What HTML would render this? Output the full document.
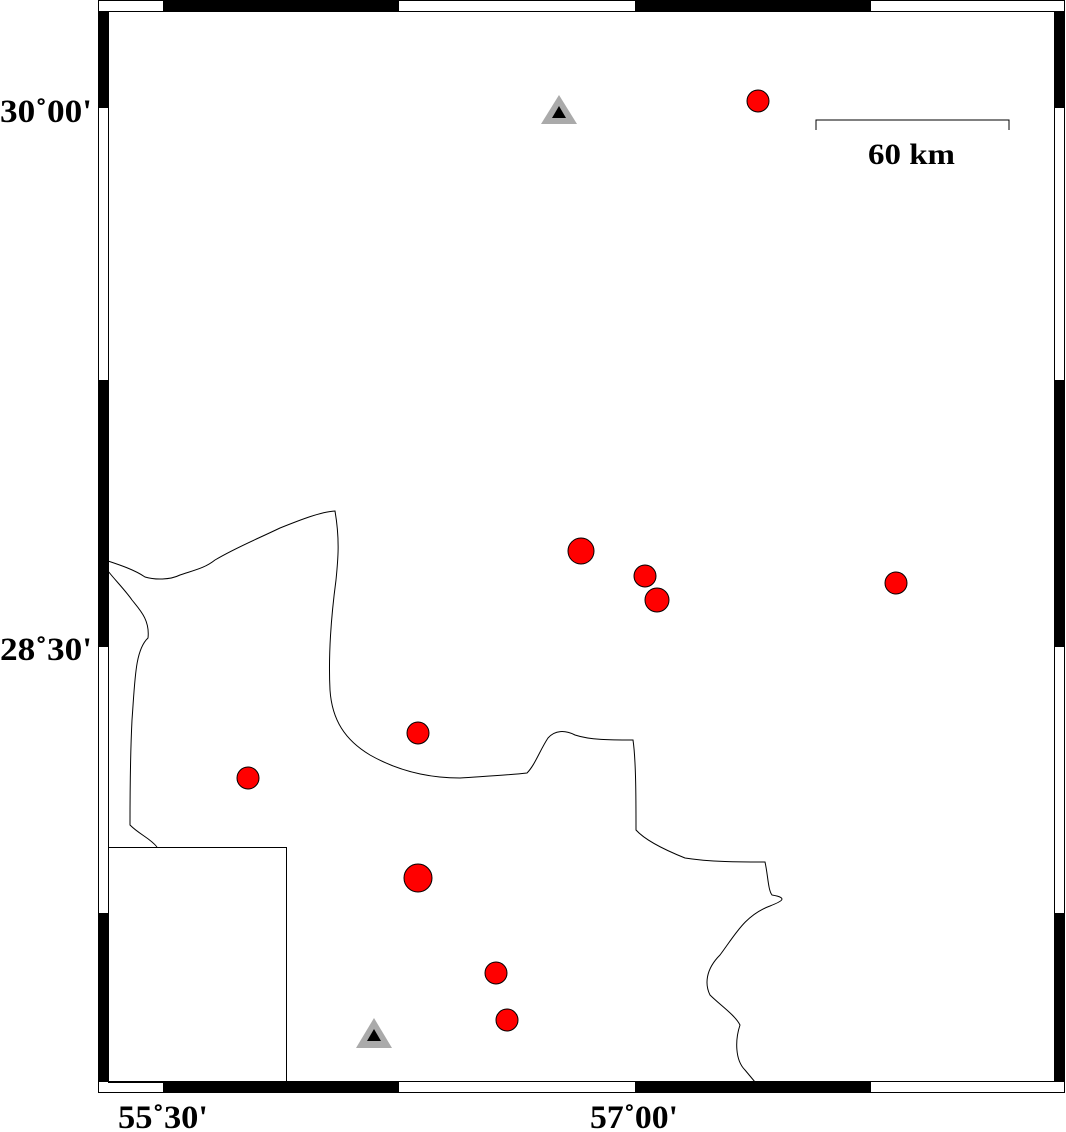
<!DOCTYPE html>
<html><head><style>body{margin:0;background:#fff}svg{display:block}text{font-family:"Liberation Serif",serif;font-weight:bold}</style></head><body>
<svg width="1066" height="1132" viewBox="0 0 1066 1132" xmlns="http://www.w3.org/2000/svg">
<rect width="1066" height="1132" fill="#fff"/>
<rect x="98.5" y="0.5" width="966" height="1092" fill="#fff" stroke="#000"/>
<g fill="#000">
<rect x="163" y="0" width="236" height="11"/><rect x="635" y="0" width="236" height="11"/>
<rect x="163" y="1082" width="236" height="11"/><rect x="635" y="1082" width="236" height="11"/>
<rect x="98" y="11" width="10" height="97"/><rect x="98" y="380" width="10" height="267"/><rect x="98" y="913" width="10" height="169"/>
<rect x="1055" y="11" width="10" height="97"/><rect x="1055" y="380" width="10" height="267"/><rect x="1055" y="913" width="10" height="169"/>
</g>
<rect x="108.5" y="11.5" width="946" height="1070" fill="#fff" stroke="#000"/>
<g fill="none" stroke="#000" stroke-width="1">
<path d="M108,561 C120,565 135,570 145,577 C155,580 170,580 180,575 C195,570 205,568 215,560 C235,548 255,540 280,528 C300,520 320,512 335,511 C340,540 338,560 336,580 C332,610 328,650 330,690 C332,720 345,740 370,755 C400,772 430,778 460,778 C490,776 510,775 527,773 C535,765 540,750 548,738 C555,730 565,730 575,735 C590,740 610,740 633,740 C636,760 636,800 636,830 C645,840 665,850 685,858 C710,862 740,862 765,862 C768,875 768,890 772,895 C790,898 780,902 770,906 C745,915 735,935 720,955 C705,970 705,985 710,995 C720,1005 735,1015 740,1025 C735,1040 735,1060 745,1070 L755,1082"/>
<path d="M108,571 C115,580 125,590 132,600 C140,610 150,620 148,638 C135,650 135,680 132,720 C130,760 130,800 130,825 C140,835 150,838 157,847"/>
<rect x="108.5" y="847.5" width="178" height="235"/>
<path d="M816,130 V120 H1009 V130"/>
</g>
<g fill="#f00" stroke="#000" stroke-width="1">
<circle cx="758" cy="101" r="11"/>
<circle cx="581" cy="551" r="13"/>
<circle cx="645" cy="576" r="11"/>
<circle cx="657" cy="600" r="12"/>
<circle cx="896" cy="583" r="11"/>
<circle cx="418" cy="733" r="11"/>
<circle cx="248" cy="778" r="11"/>
<circle cx="418" cy="878" r="14"/>
<circle cx="496" cy="973" r="11"/>
<circle cx="507" cy="1020" r="11"/>
</g>
<polygon points="559,95 541,124 577,124" fill="#aaa"/>
<polygon points="559,106 552,118 566,118" fill="#000"/>
<polygon points="374,1018 356,1048 392,1048" fill="#aaa"/>
<polygon points="374,1029 367,1041 381,1041" fill="#000"/>
<g font-size="33" fill="#000" style="font-family:'Liberation Serif',serif;font-weight:bold">
<text x="0" y="122" textLength="92" lengthAdjust="spacingAndGlyphs">30˚00'</text>
<text x="0" y="660" textLength="92" lengthAdjust="spacingAndGlyphs">28˚30'</text>
<text x="118" y="1128" textLength="90" lengthAdjust="spacingAndGlyphs">55˚30'</text>
<text x="590" y="1128" textLength="88" lengthAdjust="spacingAndGlyphs">57˚00'</text>
<text x="868" y="164" font-size="30" textLength="87" lengthAdjust="spacingAndGlyphs">60 km</text>
</g>
</svg>
</body></html>
